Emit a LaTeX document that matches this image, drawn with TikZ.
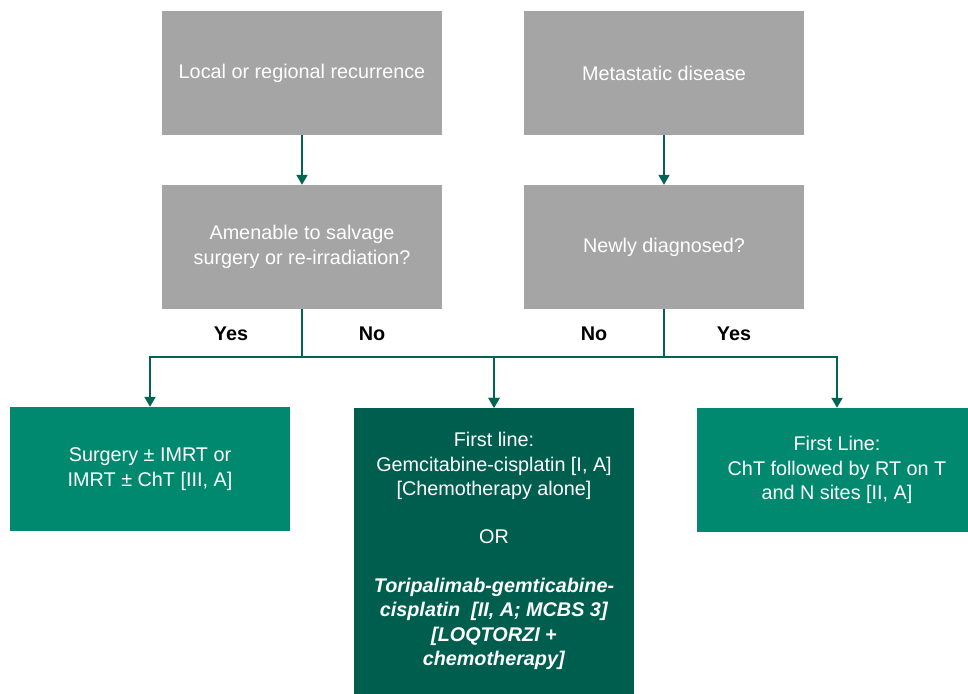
\documentclass[tikz,border=0pt]{standalone}
\usepackage{fontspec}
\setmainfont{Liberation Sans}
\usepackage{xcolor}
\usetikzlibrary{arrows.meta, positioning, calc}
\definecolor{boxgray}{HTML}{A5A5A5}
\definecolor{boxgreen}{HTML}{00896F}
\definecolor{boxdark}{HTML}{005E4F}
\definecolor{linkgreen}{HTML}{006552}

\begin{document}
\begin{tikzpicture}[x=1pt, y=-1pt,
    box/.style={minimum width=280pt, minimum height=124pt, inner sep=0pt,
      align=center, text=white, font=\fontsize{19.8}{24.4}\selectfont},
    graybox/.style={box, fill=boxgray},
    greenbox/.style={box, fill=boxgreen},
    darkbox/.style={box, fill=boxdark, minimum height=286pt},
    link/.style={draw=linkgreen, line width=2pt,
      -{Triangle[width=11pt, length=10pt]}},
    answer/.style={font=\fontsize{19.8}{24}\selectfont\bfseries}]
  \useasboundingbox (0,0) rectangle (968,693);
  % entry boxes
  \node[graybox] (local) at (302,73) {Local or regional recurrence};
  \node[graybox] (meta) at (664,73) {Metastatic disease};
  % questions
  \node[graybox] (salvage) at (302,247) {Amenable to salvage\\surgery or re-irradiation?};
  \node[graybox] (newdx) at (664,247) {Newly diagnosed?};
  % treatment boxes
  \node[greenbox] (surgery) at (150,469) {Surgery ± IMRT or\\IMRT ± ChT [III, A]};
  \node[darkbox] (firstline) at (494,551) {First line:\\Gemcitabine-cisplatin [I, A]\\{}[Chemotherapy alone]\\[24pt]
    OR\\[24pt]
    \textbf{\textit{Toripalimab-gemticabine-}}\\\textbf{\textit{cisplatin\ \ [II, A; MCBS 3]}}\\
    \textbf{\textit{[LOQTORZI +}}\\\textbf{\textit{chemotherapy]}}};
  \node[greenbox] (chtrt) at (837,470) {First Line:\\ChT followed by RT on T\\and N sites [II, A]};
  % branch points
  \coordinate (jleft) at (302,357);
  \coordinate (jright) at (664,357);
  \draw[link] (local) -- (salvage);
  \draw[link] (meta) -- (newdx);
  \draw[link] (salvage.south) -- (jleft) -| (surgery.north);
  \draw[link] (jleft) -| (firstline.north);
  \draw[link] (newdx.south) -- (jright) -| (chtrt.north);
  \draw[link] (jright) -| (firstline.north);
  % answers
  \node[answer] (yesl) at (231,334) {Yes};
  \node[answer] (nol) at (372,334) {No};
  \node[answer] (nor) at (594,334) {No};
  \node[answer] (yesr) at (734,334) {Yes};
\end{tikzpicture}
\end{document}
